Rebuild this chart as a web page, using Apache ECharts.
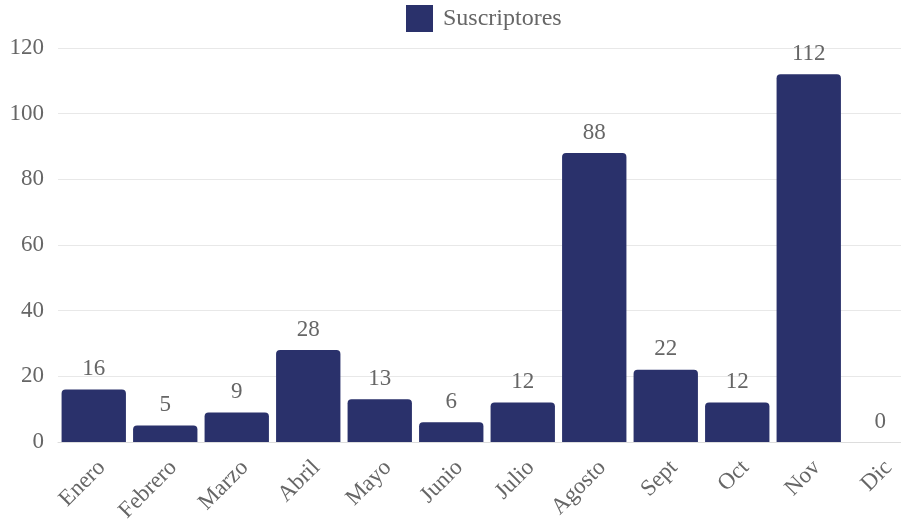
<!DOCTYPE html>
<html>
<head>
<meta charset="utf-8">
<script src="https://cdn.jsdelivr.net/npm/echarts@6/dist/echarts.min.js"></script>
<style>
  html, body { margin: 0; padding: 0; background: #fff; }
  #chart { width: 901px; height: 523px; }
</style>
</head>
<body>
<div id="chart"></div>
<script>
var meses = ['Enero', 'Febrero', 'Marzo', 'Abril', 'Mayo', 'Junio', 'Julio', 'Agosto', 'Sept', 'Oct', 'Nov', 'Dic'];
var suscriptores = [16, 5, 9, 28, 13, 6, 12, 88, 22, 12, 112, 0];

var fuente = '"Liberation Serif", "DejaVu Serif", serif';
var gris = '#666';

var chart = echarts.init(document.getElementById('chart'));
chart.setOption({
    animation: false,
    textStyle: { fontFamily: fuente },
    legend: {
        top: 5,
        left: 406,
        padding: 0,
        icon: 'rect',
        itemWidth: 27,
        itemHeight: 27,
        itemGap: 10,
        textStyle: { fontFamily: fuente, fontSize: 24, color: gris, padding: [0, 0, 0, 5] },
        data: ['Suscriptores']
    },
    grid: {
        left: 58,
        top: 48,
        width: 858,
        height: 394,
        outerBoundsMode: 'none',
        containLabel: false
    },
    xAxis: {
        type: 'category',
        data: meses,
        axisLine: { lineStyle: { color: '#ddd' } },
        axisTick: { show: false },
        axisLabel: {
            rotate: 45,
            interval: 0,
            margin: 14,
            verticalAlign: 'top',
            fontFamily: fuente,
            fontSize: 23,
            color: gris
        }
    },
    yAxis: {
        type: 'value',
        min: 0,
        max: 120,
        interval: 20,
        axisLine: { show: false },
        axisTick: { show: false },
        splitLine: { lineStyle: { color: '#e8e8e8' } },
        axisLabel: {
            margin: 14,
            fontFamily: fuente,
            fontSize: 23,
            color: gris
        }
    },
    series: [{
        name: 'Suscriptores',
        type: 'bar',
        data: suscriptores,
        barCategoryGap: '10%',
        itemStyle: { color: '#2a316b', borderRadius: [4, 4, 0, 0] },
        label: {
            show: true,
            position: 'top',
            distance: 9,
            fontFamily: fuente,
            fontSize: 23,
            color: gris
        }
    }]
});
</script>
</body>
</html>
